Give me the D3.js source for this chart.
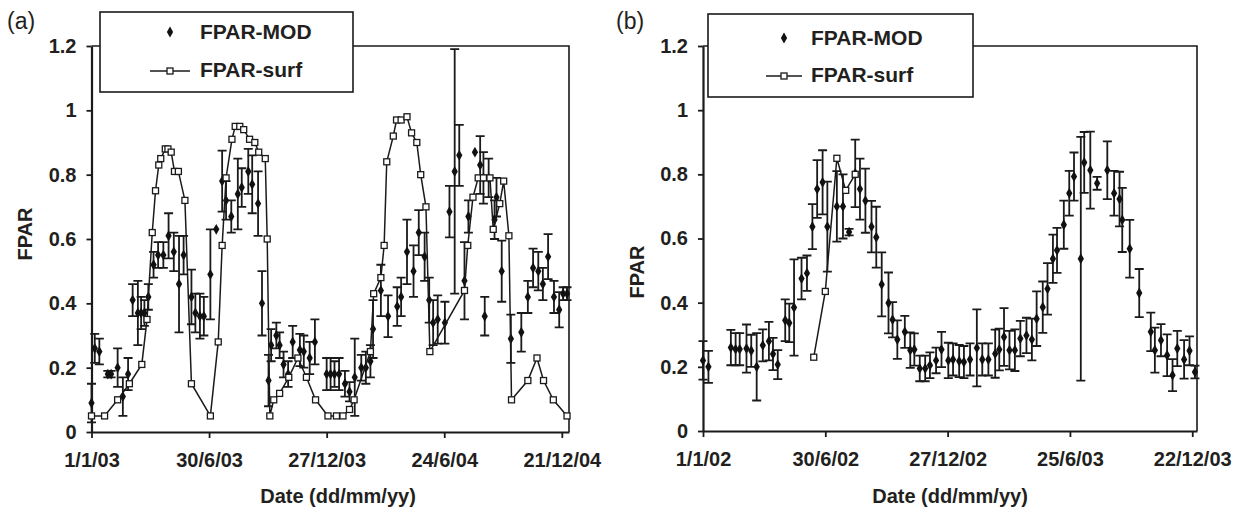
<!DOCTYPE html>
<html>
<head>
<meta charset="utf-8">
<script src="https://cdnjs.cloudflare.com/ajax/libs/d3/7.8.5/d3.min.js"></script>
<style>
  body { margin: 0; background: #fff; }
  text { font-family: "Liberation Sans", Arial, sans-serif; fill: #231f20; }
</style>
</head>
<body>
<svg id="main"></svg>
<script>
var yTicks = [0, 0.2, 0.4, 0.6, 0.8, 1, 1.2];

// panel (a) : 2003-2004
var ticksA = ["1/1/03", "30/6/03", "27/12/03", "24/6/04", "21/12/04"];
var modDaysA = [0, 5, 12, 25, 30, 40, 48, 56, 63, 71, 76, 81, 87, 95, 102, 110, 118, 126, 134, 141,
  153, 159, 166, 172, 182, 191, 200, 206, 214, 224, 230, 240, 246, 255, 261, 271, 275, 283, 288, 294,
  301, 308, 319, 325, 334, 342, 360, 366, 372, 379, 388, 395, 403, 413, 420, 427, 431, 443, 454, 468,
  474, 483, 493, 501, 510, 517, 523, 530, 541, 548, 556, 563, 571, 577, 587, 595, 600, 602, 608, 617,
  620, 628, 642, 658, 668, 676, 684, 691, 699, 708, 716, 722, 728];
var modValA = [0.09, 0.26, 0.25, 0.18, 0.18, 0.20, 0.11, 0.18, 0.41, 0.37, 0.37, 0.37, 0.42, 0.52, 0.55, 0.55, 0.61, 0.56, 0.46, 0.55,
  0.42, 0.37, 0.36, 0.36, 0.49, 0.63, 0.78, 0.72, 0.67, 0.74, 0.76, 0.81, 0.77, 0.71, 0.40, 0.16, 0.27, 0.30, 0.27, 0.21,
  0.18, 0.28, 0.255, 0.25, 0.23, 0.28, 0.18, 0.18, 0.18, 0.18, 0.15, 0.125, 0.17, 0.20, 0.20, 0.22, 0.32, 0.44, 0.36, 0.39,
  0.42, 0.56, 0.50, 0.62, 0.545, 0.41, 0.34, 0.35, 0.34, 0.685, 0.81, 0.86, 0.47, 0.67, 0.87, 0.83, 0.79, 0.36, 0.79, 0.66,
  0.73, 0.50, 0.29, 0.31, 0.42, 0.51, 0.50, 0.46, 0.545, 0.42, 0.38, 0.43, 0.43];
var modErrA = [0.06, 0.045, 0.04, 0.01, 0.01, 0.06, 0.06, 0.05, 0.05, 0.10, 0.05, 0.04, 0.04, 0.04, 0.04, 0.04, 0.07, 0.06, 0.15, 0.06,
  0.085, 0.06, 0.07, 0.06, 0.14, 0, 0.095, 0.06, 0.05, 0.11, 0.06, 0.07, 0.09, 0.10, 0.10, 0.08, 0.05, 0.04, 0.04, 0.04,
  0.04, 0.05, 0.05, 0.05, 0.05, 0.07, 0.05, 0.05, 0.04, 0.05, 0.04, 0.03, 0.12, 0.04, 0.05, 0.05, 0.09, 0.08, 0.065, 0.06,
  0.06, 0.10, 0.08, 0.07, 0.075, 0.07, 0.07, 0.075, 0.065, 0.08, 0.38, 0.095, 0.12, 0.05, 0, 0.09, 0.08, 0.06, 0.06, 0.06,
  0.06, 0.095, 0.075, 0.06, 0.05, 0.06, 0.06, 0.05, 0.07, 0.05, 0.055, 0.02, 0.02];
var surfDaysA = [0, 20, 40, 58, 77, 85, 93, 98, 103, 106, 113, 117, 122, 127, 133, 143, 153, 182, 194, 200,
  206, 215, 220, 227, 233, 242, 250, 256, 266, 269, 273, 279, 288, 302, 316, 329, 343, 362, 375, 385,
  395, 402, 427, 432, 443, 448, 452, 462, 467, 474, 483, 490, 498, 504, 512, 518, 571, 576, 584, 592,
  600, 610, 615, 625, 631, 639, 643, 668, 682, 692, 707, 728];
var surfValA = [0.05, 0.05, 0.10, 0.15, 0.21, 0.35, 0.62, 0.75, 0.83, 0.85, 0.88, 0.88, 0.87, 0.81, 0.81, 0.72, 0.15, 0.05, 0.28, 0.58,
  0.79, 0.91, 0.95, 0.95, 0.94, 0.91, 0.90, 0.87, 0.85, 0.60, 0.05, 0.10, 0.12, 0.17, 0.23, 0.17, 0.10, 0.05, 0.05, 0.05,
  0.07, 0.10, 0.25, 0.43, 0.48, 0.58, 0.84, 0.92, 0.97, 0.97, 0.98, 0.93, 0.90, 0.80, 0.70, 0.25, 0.44, 0.58, 0.73, 0.79,
  0.79, 0.79, 0.63, 0.71, 0.78, 0.61, 0.10, 0.16, 0.23, 0.16, 0.10, 0.05];

// panel (b) : 2002-2003
var ticksB = ["1/1/02", "30/6/02", "27/12/02", "25/6/03", "22/12/03"];
var modDaysB = [0, 8, 41, 48, 54, 64, 71, 79, 88, 97, 103, 110, 121, 127, 134, 145, 153, 161, 168, 176,
  183, 197, 206, 215, 224, 231, 239, 248, 255, 263, 273, 279, 286, 297, 305, 311, 319, 327, 334, 343,
  351, 361, 368, 377, 384, 393, 403, 411, 420, 430, 436, 443, 451, 459, 467, 476, 484, 491, 500, 507,
  515, 521, 531, 539, 546, 556, 561, 570, 580, 595, 605, 613, 617, 628, 642, 659, 665, 674, 683, 691,
  698, 708, 716, 724];
var modValB = [0.22, 0.20, 0.26, 0.255, 0.255, 0.257, 0.25, 0.20, 0.267, 0.28, 0.24, 0.207, 0.345, 0.337, 0.385, 0.475, 0.492, 0.637, 0.754, 0.775,
  0.637, 0.70, 0.70, 0.62, 0.803, 0.754, 0.718, 0.637, 0.604, 0.457, 0.399, 0.347, 0.285, 0.309, 0.252, 0.254, 0.195, 0.195, 0.205, 0.22,
  0.254, 0.22, 0.223, 0.218, 0.215, 0.223, 0.259, 0.223, 0.223, 0.241, 0.254, 0.293, 0.252, 0.252, 0.288, 0.298, 0.285, 0.35, 0.386, 0.443,
  0.537, 0.563, 0.643, 0.741, 0.793, 0.537, 0.837, 0.813, 0.772, 0.813, 0.741, 0.723, 0.658, 0.568, 0.43, 0.309, 0.252, 0.283, 0.236, 0.174,
  0.257, 0.223, 0.25, 0.184];
var modErrB = [0.06, 0.05, 0.055, 0.05, 0.05, 0.075, 0.05, 0.105, 0.05, 0.06, 0.05, 0.045, 0.065, 0.06, 0.15, 0.065, 0.055, 0.07, 0.09, 0.10,
  0.14, 0.11, 0.10, 0.01, 0.105, 0.095, 0.10, 0.08, 0.095, 0.10, 0.095, 0.055, 0.06, 0.05, 0.055, 0.05, 0.04, 0.04, 0.04, 0.04,
  0.055, 0.055, 0.05, 0.05, 0.05, 0.05, 0.12, 0.05, 0.05, 0.075, 0.065, 0.09, 0.06, 0.065, 0.055, 0.055, 0.065, 0.085, 0.08, 0.08,
  0.075, 0.07, 0.075, 0.07, 0.075, 0.38, 0.095, 0.12, 0.02, 0.09, 0.07, 0.085, 0.10, 0.09, 0.075, 0.06, 0.07, 0.05, 0.065, 0.05,
  0.055, 0.06, 0.045, 0.02];
var surfDaysB = [163, 180, 197, 210, 224];
var surfValB = [0.23, 0.435, 0.85, 0.75, 0.80];

var w = 1243, h = 511;
var parse = d3.timeParse("%d/%m/%y");

var svg = d3.select("#main")
  .attr("width", w)
  .attr("height", h);

function drawPanel(p) {
  var start = parse(p.ticks[0]);
  var x = d3.scaleTime()
    .domain([start, parse(p.end)])
    .range([p.left, p.right]);
  var y = d3.scaleLinear()
    .domain([0, 1.2])
    .range([p.bottom, p.top]);
  var g = svg.append("g");
  var dayX = function(d) { return x(d3.timeDay.offset(start, d)); };

  // top and right frame
  g.append("path")
    .attr("d", "M" + p.left + "," + y(1.2) + "H" + p.right + "V" + p.bottom)
    .attr("fill", "none")
    .attr("stroke", "#1a1a1a")
    .attr("stroke-width", 1.6);

  var xAxis = d3.axisBottom(x)
    .tickValues(p.ticks.map(function(t) { return parse(t); }))
    .tickFormat(function(d, i) { return p.ticks[i]; })
    .tickSize(6)
    .tickSizeOuter(0)
    .tickPadding(15);
  var yAxis = d3.axisLeft(y)
    .tickValues(yTicks)
    .tickFormat(d3.format("~g"))
    .tickSize(5)
    .tickSizeOuter(0)
    .tickPadding(10);

  [g.append("g").attr("transform", "translate(0," + p.bottom + ")").call(xAxis),
   g.append("g").attr("transform", "translate(" + p.left + ",0)").call(yAxis)]
    .forEach(function(a) {
      a.attr("font-family", null).attr("font-size", 20).attr("font-weight", "bold");
      a.select(".domain").attr("stroke", "#1a1a1a").attr("stroke-width", 2.2);
      a.selectAll(".tick line").attr("stroke", "#1a1a1a").attr("stroke-width", 1.8);
      a.selectAll(".tick text").attr("fill", "#231f20");
    });

  // error bars of FPAR-MOD
  var bars = g.append("g")
    .attr("stroke", "#1a1a1a")
    .attr("stroke-width", 1.8)
    .attr("fill", "none");
  p.modDays.forEach(function(d, i) {
    if (!p.modErr[i]) return;
    var cx = dayX(d);
    var lo = y(p.modVal[i] - p.modErr[i]), hi = y(p.modVal[i] + p.modErr[i]);
    bars.append("path")
      .attr("d", "M" + cx + "," + lo + "V" + hi +
        "M" + (cx - 4.5) + "," + lo + "H" + (cx + 4.5) +
        "M" + (cx - 4.5) + "," + hi + "H" + (cx + 4.5));
  });

  g.selectAll(".mod")
    .data(p.modDays)
    .enter()
    .append("path")
    .attr("class", "mod")
    .attr("transform", function(d, i) { return "translate(" + dayX(d) + "," + y(p.modVal[i]) + ")"; })
    .attr("d", d3.symbol(d3.symbolDiamond, 34))
    .attr("fill", "#111");

  // FPAR-surf line + squares
  var line = d3.line()
    .x(function(d) { return dayX(d); })
    .y(function(d, i) { return y(p.surfVal[i]); });
  g.append("path")
    .attr("d", line(p.surfDays))
    .attr("fill", "none")
    .attr("stroke", "#1a1a1a")
    .attr("stroke-width", 1.5);
  g.selectAll(".surf")
    .data(p.surfDays)
    .enter()
    .append("rect")
    .attr("class", "surf")
    .attr("x", function(d) { return dayX(d) - 3; })
    .attr("y", function(d, i) { return y(p.surfVal[i]) - 3; })
    .attr("width", 6)
    .attr("height", 6)
    .attr("fill", "#fff")
    .attr("stroke", "#1a1a1a")
    .attr("stroke-width", 1.3);

  // legend
  var L = p.legend;
  var lg = g.append("g");
  lg.append("rect")
    .attr("x", L.x).attr("y", L.y).attr("width", L.w).attr("height", L.h)
    .attr("fill", "#fff").attr("stroke", "#1a1a1a").attr("stroke-width", 1.6);
  lg.append("path")
    .attr("transform", "translate(" + L.mx + "," + L.y1 + ")")
    .attr("d", d3.symbol(d3.symbolDiamond, 34))
    .attr("fill", "#111");
  lg.append("path")
    .attr("d", "M" + (L.mx - L.half) + "," + L.y2 + "H" + (L.mx + L.half))
    .attr("stroke", "#1a1a1a").attr("stroke-width", 1.5);
  lg.append("rect")
    .attr("x", L.mx - 3).attr("y", L.y2 - 3).attr("width", 6).attr("height", 6)
    .attr("fill", "#fff").attr("stroke", "#1a1a1a").attr("stroke-width", 1.3);
  [["FPAR-MOD", L.y1 + 7], ["FPAR-surf", L.y2 + 6]].forEach(function(t) {
    lg.append("text")
      .attr("x", L.tx).attr("y", t[1])
      .attr("font-size", 21).attr("font-weight", "bold")
      .text(t[0]);
  });

  // titles
  g.append("text")
    .attr("x", p.labelX).attr("y", 29)
    .attr("font-size", 23)
    .text(p.label);
  g.append("text")
    .attr("transform", "translate(" + p.fparX + "," + p.fparY + ") rotate(-90)")
    .attr("text-anchor", "middle")
    .attr("font-size", 20).attr("font-weight", "bold")
    .text("FPAR");
  g.append("text")
    .attr("x", p.dateX).attr("y", 503)
    .attr("text-anchor", "middle")
    .attr("font-size", 20).attr("font-weight", "bold")
    .text("Date (dd/mm/yy)");
}

drawPanel({
  ticks: ticksA, end: "1/1/05",
  left: 91.5, right: 569, top: 46, bottom: 432,
  modDays: modDaysA, modVal: modValA, modErr: modErrA,
  surfDays: surfDaysA, surfVal: surfValA,
  legend: { x: 100, y: 12, w: 253, h: 80, mx: 170, half: 20, y1: 32, y2: 71, tx: 200 },
  label: "(a)", labelX: 7, fparX: 31.5, fparY: 234, dateX: 338
});

drawPanel({
  ticks: ticksB, end: "29/12/03",
  left: 703, right: 1197, top: 46, bottom: 431,
  modDays: modDaysB, modVal: modValB, modErr: modErrB,
  surfDays: surfDaysB, surfVal: surfValB,
  legend: { x: 708, y: 14, w: 265, h: 83, mx: 784, half: 18, y1: 38, y2: 76, tx: 811 },
  label: "(b)", labelX: 616, fparX: 644, fparY: 272, dateX: 950
});
</script>
</body>
</html>
